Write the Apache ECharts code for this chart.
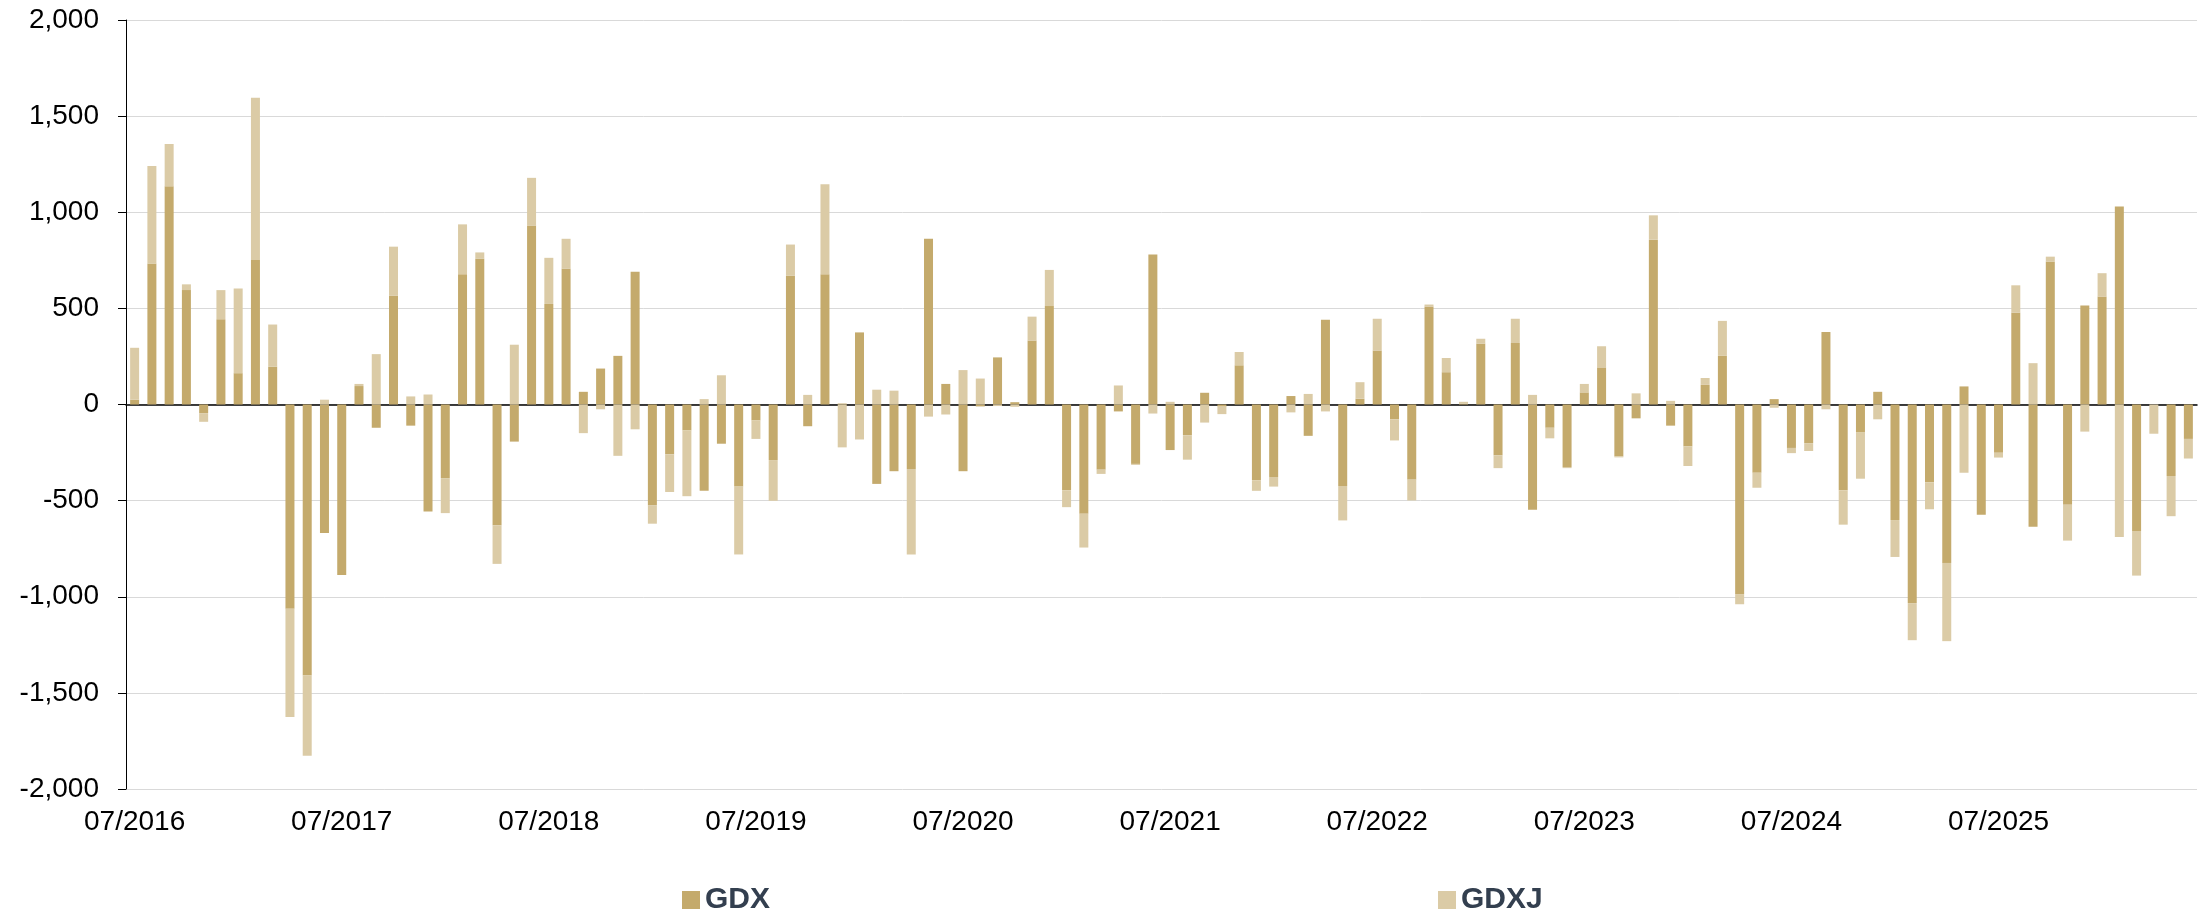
<!DOCTYPE html>
<html>
<head>
<meta charset="utf-8">
<script src="https://cdn.jsdelivr.net/npm/echarts@6/dist/echarts.min.js"></script>
<style>
  html, body { margin: 0; padding: 0; background: #fff; }
  #main { width: 2208px; height: 916px; }
</style>
</head>
<body>
<div id="main"></div>
<script>
var myChart = echarts.init(document.getElementById('main'));

// monthly categories 07/2016 .. 06/2026
var months = [];
for (var k = 0; k < 120; k++) {
    var m = (6 + k) % 12 + 1;
    var y = 2016 + Math.floor((6 + k) / 12);
    months.push((m < 10 ? '0' + m : '' + m) + '/' + y);
}

var gdx = [
    25, 733, 1135, 595, -45, 444, 163, 752, 196, -1063, -1410, -669,
    -887, 96, -121, 565, -110, -556, -383, 678, 760, -628, -193, 931,
    523, 708, 66, 187, 253, 691, -526, -259, -135, -449, -204, -427,
    -83, -289, 669, -113, 678, 5, 375, -413, -347, -336, 862, 107,
    -347, -10, 245, 12, 333, 512, -446, -568, -339, -36, -309, 780,
    -237, -160, 61, -11, 204, -394, -377, 44, -163, 441, -424, 30,
    281, -77, -391, 510, 168, 5, 317, -264, 320, -548, -121, -325,
    63, 193, -270, -72, 857, -110, -218, 102, 253, -986, -355, 28,
    -226, -201, 377, -446, -146, 66, -601, -1033, -405, -824, 94, -573,
    -251, 477, -636, 744, -521, 515, 562, 1030, -658, 0, -372, -179
];
var gdxj = [
    270, 507, 220, 30, -45, 151, 440, 843, 220, -562, -417, 25,
    0, 11, 262, 256, 42, 52, -182, 259, 31, -201, 311, 248,
    240, 154, -149, -25, -267, -129, -94, -196, -342, 28, 152, -353,
    -96, -212, 163, 50, 468, -223, -182, 77, 72, -444, -63, -52,
    179, 135, -8, -12, 124, 188, -88, -176, -22, 99, -5, -47,
    14, -127, -94, -39, 69, -55, -50, -41, 55, -36, -179, 86,
    165, -110, -108, 10, 74, 9, 25, -67, 126, 50, -55, -6,
    44, 110, -5, 58, 127, 19, -102, 36, 182, -53, -78, -17,
    -27, -41, -25, -179, -240, -77, -192, -193, -140, -407, -355, 0,
    -25, 143, 215, 25, -187, -141, 121, -689, -232, -152, -209, -102
];

var yTicks = { min: -2000, max: 2000, step: 500 };

var font = 'Arial, "Liberation Sans", sans-serif';

var legendText = { color: '#333F4F', fontSize: 30, fontWeight: 'bold', fontFamily: font };

var option = {
    backgroundColor: '#ffffff',
    animation: false,
    color: ['#C4AA6C', '#DBCBA6'],
    legend: [
        {
            data: ['GDX'],
            left: 677,
            top: 880,
            icon: 'rect',
            itemWidth: 18,
            itemHeight: 18,
            textStyle: legendText
        },
        {
            data: ['GDXJ'],
            left: 1433,
            top: 880,
            icon: 'rect',
            itemWidth: 18,
            itemHeight: 18,
            textStyle: legendText
        }
    ],
    grid: {
        left: 126,
        right: 11,
        top: 20,
        bottom: 127
    },
    xAxis: [
        {
            type: 'category',
            data: months,
            axisLine: { onZero: true, lineStyle: { color: '#000', width: 1.5 } },
            axisTick: { interval: 11, length: 8, lineStyle: { color: '#000', width: 1.5 } },
            axisLabel: { show: false }
        },
        {
            type: 'category',
            data: months,
            position: 'bottom',
            axisLine: { show: false, onZero: false },
            axisTick: { show: false },
            axisLabel: {
                interval: 11,
                margin: 19,
                color: '#000',
                fontSize: 28,
                fontFamily: font
            }
        }
    ],
    yAxis: {
        type: 'value',
        min: yTicks.min,
        max: yTicks.max,
        interval: yTicks.step,
        axisLine: { show: true, lineStyle: { color: '#000', width: 1 } },
        axisTick: { show: true, length: 8, lineStyle: { color: '#000' } },
        axisLabel: {
            margin: 27,
            color: '#000',
            fontSize: 28,
            fontFamily: font,
            formatter: function (v) {
                return echarts.format.addCommas(v);
            }
        },
        splitLine: { lineStyle: { color: '#D9D9D9', width: 1 } }
    },
    series: [
        {
            name: 'GDX',
            type: 'bar',
            stack: 'flows',
            barWidth: 9,
            data: gdx
        },
        {
            name: 'GDXJ',
            type: 'bar',
            stack: 'flows',
            barWidth: 9,
            data: gdxj
        }
    ]
};

myChart.setOption(option);
</script>
</body>
</html>
